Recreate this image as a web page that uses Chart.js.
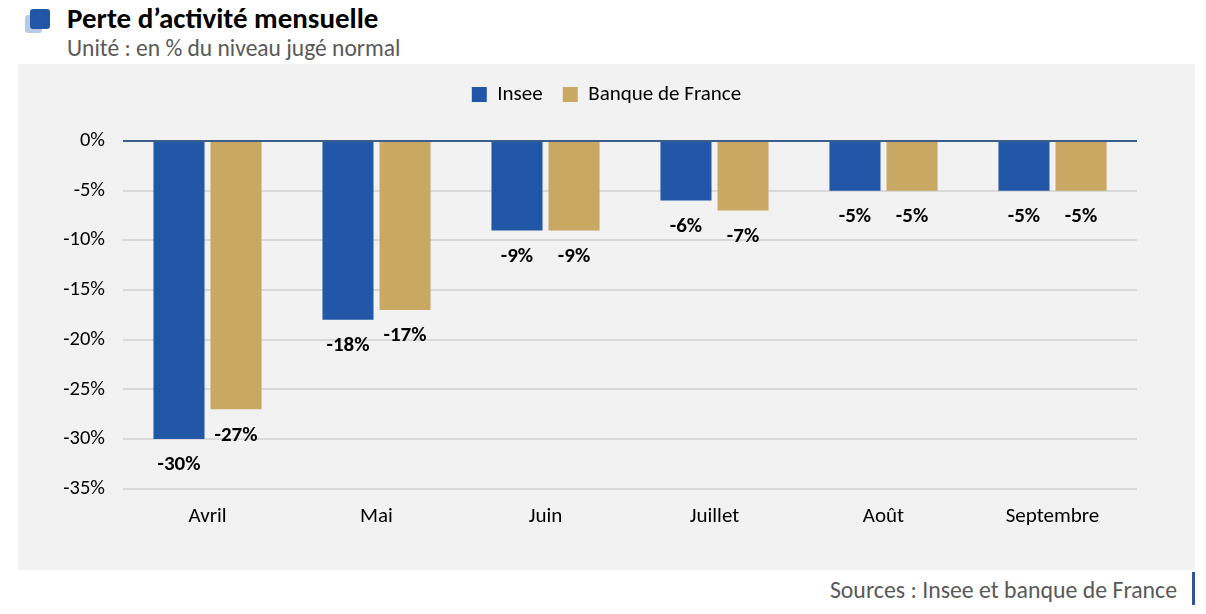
<!DOCTYPE html>
<html lang="fr">
<head>
    <meta charset="UTF-8">
    <title>Perte d'activité mensuelle</title>
    <script src="https://cdn.jsdelivr.net/npm/chart.js@4.4.0/dist/chart.umd.min.js"></script>
    <style>
        body {
            margin: 0;
            width: 1206px;
            height: 614px;
            background: #fff;
            font-family: Carlito, Calibri, Lato, sans-serif;
            position: relative;
            overflow: hidden;
        }
        .icon-back {
            position: absolute; left: 25px; top: 15px; width: 17px; height: 18px;
            background: #b8c9e6; border-radius: 3px;
        }
        .icon {
            position: absolute; left: 30px; top: 9px; width: 20px; height: 20px;
            background: #2157a6; border-radius: 3px;
        }
        .title {
            position: absolute; left: 67px; top: 0px;
            font-size: 29px; font-weight: bold; color: #000;
        }
        .subtitle {
            position: absolute; left: 67px; top: 34px;
            font-size: 23.5px; color: #595959;
        }
        #panel {
            position: absolute; left: 18px; top: 64px; width: 1177px; height: 506px;
            background: #f2f2f2;
        }
        .source {
            position: absolute; right: 29px; top: 575px;
            font-size: 23.8px; color: #595959;
        }
        .source-bar {
            position: absolute; left: 1192px; top: 572px; width: 3px; height: 33px;
            background: #2f5597;
        }
    </style>
</head>
<body>
    <div class="icon-back"></div>
    <div class="icon"></div>
    <div class="title">Perte d’activité mensuelle</div>
    <div class="subtitle">Unité : en % du niveau jugé normal</div>
    <div id="panel"><canvas id="lossChart" width="1177" height="506"></canvas></div>
    <div class="source">Sources : Insee et banque de France</div>
    <div class="source-bar"></div>

    <script>
        const months = ["Avril", "Mai", "Juin", "Juillet", "Août", "Septembre"];
        const insee = [-30, -18, -9, -6, -5, -5];
        const banqueDeFrance = [-27, -17, -9, -7, -5, -5];
        const yTicks = [0, -5, -10, -15, -20, -25, -30, -35];

        const fontFamily = "Carlito, Calibri, Lato, sans-serif";

        // labels under the end of each bar
        const barLabels = {
            id: "barLabels",
            afterDatasetsDraw(chart) {
                const ctx = chart.ctx;
                ctx.save();
                ctx.font = "bold 21px " + fontFamily;
                ctx.fillStyle = "#000";
                ctx.textAlign = "center";
                ctx.textBaseline = "middle";
                chart.data.datasets.forEach((ds, i) => {
                    chart.getDatasetMeta(i).data.forEach((bar, j) => {
                        ctx.fillText(ds.data[j] + "%", bar.x, bar.y + 26);
                    });
                });
                ctx.restore();
            }
        };

        // dark zero line on top of the bars
        const zeroLine = {
            id: "zeroLine",
            afterDatasetsDraw(chart) {
                const y = chart.scales.y.getPixelForValue(0);
                const ctx = chart.ctx;
                ctx.save();
                ctx.strokeStyle = "#3b5f8a";
                ctx.lineWidth = 2;
                ctx.beginPath();
                ctx.moveTo(chart.chartArea.left, y);
                ctx.lineTo(chart.chartArea.right, y);
                ctx.stroke();
                ctx.restore();
            }
        };

        new Chart(document.getElementById("lossChart"), {
            type: "bar",
            data: {
                labels: months,
                datasets: [
                    { label: "Insee", data: insee, backgroundColor: "#2157a6" },
                    { label: "Banque de France", data: banqueDeFrance, backgroundColor: "#c8a862" }
                ]
            },
            options: {
                responsive: false,
                animation: false,
                layout: { padding: { top: 0, right: 0, bottom: 34, left: 0 } },
                datasets: { bar: { categoryPercentage: 0.675, barPercentage: 0.895 } },
                plugins: {
                    legend: {
                        position: "top",
                        weight: 3000,
                        labels: {
                            font: { family: fontFamily, size: 21 },
                            color: "#000",
                            boxWidth: 15,
                            boxHeight: 15,
                            padding: 20
                        }
                    },
                    // empty title only used as a spacer under the legend
                    title: {
                        display: true,
                        text: "",
                        position: "top",
                        weight: 2000,
                        font: { size: 10 },
                        padding: 7
                    },
                    tooltip: { enabled: false }
                },
                scales: {
                    x: {
                        grid: { display: false },
                        border: { display: false },
                        ticks: { font: { family: fontFamily, size: 21 }, color: "#000", padding: 7 }
                    },
                    y: {
                        min: -35,
                        max: 0,
                        afterFit: (s) => { s.width = 105; },
                        afterBuildTicks: (s) => { s.ticks = yTicks.map(v => ({ value: v })); },
                        grid: { color: "#d9d9d9", lineWidth: 2, drawTicks: false },
                        border: { display: false },
                        ticks: {
                            font: { family: fontFamily, size: 20.5 },
                            color: "#000",
                            padding: 18,
                            callback: (v) => v + "%"
                        }
                    },
                    // empty right margin so the legend stays centred on the panel
                    yRight: {
                        position: "right",
                        display: true,
                        afterFit: (s) => { s.width = 58; },
                        grid: { display: false },
                        border: { display: false },
                        ticks: { display: false }
                    }
                }
            },
            plugins: [barLabels, zeroLine]
        });
    </script>
</body>
</html>
